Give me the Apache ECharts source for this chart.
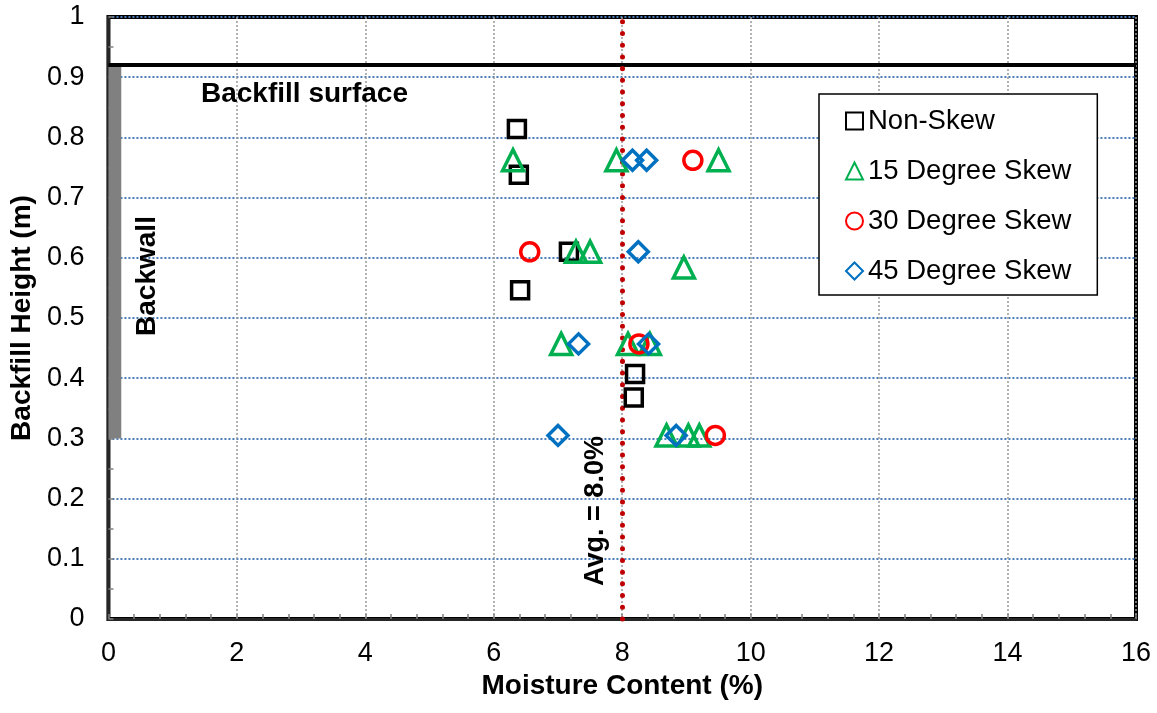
<!DOCTYPE html>
<html>
<head>
<meta charset="utf-8">
<title>Backfill Moisture Content</title>
<script src="https://cdn.jsdelivr.net/npm/echarts@6/dist/echarts.min.js"></script>
<style>
  html, body { margin: 0; padding: 0; background: #fff; }
  #chart { width: 1157px; height: 713px; }
</style>
</head>
<body>
<div id="chart"></div>
<script>
// Moisture content (%) and measurement height (m) for each backfill test
const nonSkewX = [6.36, 6.39, 7.17, 6.41, 8.20, 8.18];
const nonSkewY = [0.814, 0.738, 0.610, 0.546, 0.407, 0.368];

const skew15X = [6.30, 7.91, 9.50, 7.28, 7.50, 8.96, 7.05, 8.09, 8.43, 8.69, 9.03, 9.20];
const skew15Y = [0.762, 0.762, 0.762, 0.610, 0.610, 0.584, 0.457, 0.457, 0.457, 0.305, 0.305, 0.305];

const skew30X = [9.10, 6.56, 8.26, 9.45];
const skew30Y = [0.762, 0.610, 0.457, 0.305];

const skew45X = [8.16, 8.38, 8.25, 7.32, 8.41, 7.00, 8.84];
const skew45Y = [0.762, 0.762, 0.610, 0.457, 0.457, 0.305, 0.305];

const seriesNames = ['Non-Skew', '15 Degree Skew', '30 Degree Skew', '45 Degree Skew'];

// Reference levels
const avgMoisture = 8.0;       // average moisture content (%)
const backfillSurface = 0.917; // top of backfill (m)
const backwallBottom = 0.3;    // bottom of backwall (m)
const backwallWidth = 0.2;     // drawn width of backwall band (x units)

const FONT = '"Liberation Sans", Arial, Helvetica, sans-serif';

function pairs(xs, ys) {
  return xs.map((x, i) => [x, ys[i]]);
}

function scatter(name, xs, ys, symbol, color, size) {
  return {
    name: name,
    type: 'scatter',
    symbol: symbol,
    symbolSize: size,
    data: pairs(xs, ys),
    itemStyle: { color: 'rgba(255,255,255,0)', borderColor: color, borderWidth: 3.5, opacity: 1 },
    emphasis: { disabled: true },
    z: 5
  };
}

const chart = echarts.init(document.getElementById('chart'), null, { renderer: 'canvas' });

const option = {
  backgroundColor: '#ffffff',
  animation: false,
  textStyle: { fontFamily: FONT },
  grid: {
    left: 108, right: 21, top: 17, bottom: 94,
    show: true, borderColor: '#000', borderWidth: 4, backgroundColor: 'transparent'
  },
  xAxis: {
    type: 'value', min: 0, max: 16, interval: 2,
    name: 'Moisture Content (%)', nameLocation: 'middle', nameGap: 46,
    nameTextStyle: { fontFamily: FONT, fontSize: 28, fontWeight: 'bold', color: '#000' },
    axisLine: { show: true, onZero: false, lineStyle: { color: '#262626', width: 3 } },
    axisTick: { show: true, inside: true, length: 5, lineStyle: { color: '#808080', width: 1.5 } },
    minorTick: { show: true, splitNumber: 5, length: 5, lineStyle: { color: '#808080', width: 1.5 } },
    axisLabel: { fontFamily: FONT, fontSize: 27, color: '#000', margin: 21 },
    splitLine: { show: true, lineStyle: { color: '#9a9a9a', width: 1.5, type: [2, 2] } }
  },
  yAxis: {
    type: 'value', min: 0, max: 1, interval: 0.1,
    name: 'Backfill Height (m)', nameLocation: 'middle', nameGap: 72, nameRotate: 90,
    nameTextStyle: { fontFamily: FONT, fontSize: 28, fontWeight: 'bold', color: '#000' },
    axisLine: { show: true, onZero: false, lineStyle: { color: '#262626', width: 3 } },
    axisTick: { show: true, inside: true, length: 5, lineStyle: { color: '#808080', width: 1.5 } },
    minorTick: { show: true, splitNumber: 2, length: 5, lineStyle: { color: '#808080', width: 1.5 } },
    axisLabel: { fontFamily: FONT, fontSize: 27, color: '#000', margin: 24 },
    splitLine: { show: true, lineStyle: { color: '#4a7ebb', width: 2, type: [2, 2] } }
  },
  legend: {
    data: seriesNames,
    orient: 'vertical',
    left: 819, top: 94,
    padding: [13, 26, 10, 26],
    itemGap: 22,
    itemWidth: 17, itemHeight: 17,
    backgroundColor: '#fff',
    borderColor: '#000', borderWidth: 1.5,
    textStyle: { fontFamily: FONT, fontSize: 27.5, lineHeight: 28, color: '#000' },
    selectedMode: false
  },
  series: [
    Object.assign(scatter(seriesNames[0], nonSkewX, nonSkewY, 'rect', '#000000', 17), {
      markArea: {
        silent: true,
        itemStyle: { color: '#808080', opacity: 1 },
        data: [[{ coord: [0, backwallBottom] }, { coord: [backwallWidth, backfillSurface] }]],
        z: 1
      },
      markLine: {
        silent: true,
        symbol: ['none', 'none'],
        label: { show: false },
        data: [
          { yAxis: backfillSurface, lineStyle: { color: '#000', width: 4, type: 'solid' } },
          { xAxis: avgMoisture, lineStyle: { color: '#c00000', width: 5, type: [0.01, 11.7], cap: 'round' } }
        ]
      }
    }),
    scatter(seriesNames[1], skew15X, skew15Y, 'triangle', '#00b050', 21),
    scatter(seriesNames[2], skew30X, skew30Y, 'circle', '#ff0000', 18),
    scatter(seriesNames[3], skew45X, skew45Y, 'diamond', '#0070c0', 20)
  ],
  graphic: [
    {
      type: 'text', left: 201, top: 80, z: 10,
      style: { text: 'Backfill surface', font: 'bold 28px ' + FONT, fill: '#000' }
    },
    {
      type: 'text', x: 147, y: 276, rotation: Math.PI / 2, z: 10,
      style: { text: 'Backwall', font: 'bold 28px ' + FONT, fill: '#000', align: 'center', verticalAlign: 'middle' }
    },
    {
      type: 'text', x: 596, y: 511, rotation: Math.PI / 2, z: 10,
      style: { text: 'Avg. = ' + avgMoisture.toFixed(1) + '%', font: 'bold 27px ' + FONT, fill: '#000', align: 'center', verticalAlign: 'middle' }
    }
  ]
};

chart.setOption(option);
</script>
</body>
</html>
